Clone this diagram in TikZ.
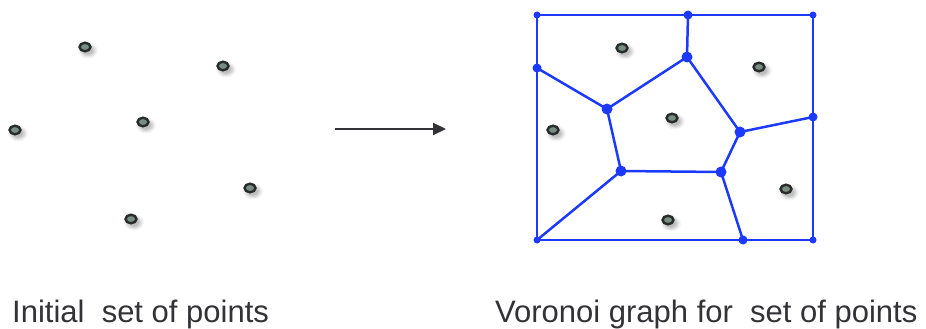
\documentclass[tikz,border=0pt]{standalone}
\usepackage{fontspec}
\setmainfont{Liberation Sans}
\usetikzlibrary{shapes.geometric,arrows.meta,calc}
\definecolor{vblue}{RGB}{28,58,255}
\definecolor{sitefill}{RGB}{120,142,128}
\definecolor{sitering}{RGB}{40,44,44}
\definecolor{txt}{RGB}{50,50,55}
\tikzset{
  site/.style={ellipse, draw=sitering, fill=sitefill, line width=2.4pt,
    minimum width=11pt, minimum height=8.5pt, inner sep=0pt},
  edge/.style={draw=vblue, line width=2.5pt, line join=round},
  vdot/.style={fill=vblue},
  caption/.style={font=\fontsize{31}{31}\selectfont, text=txt, inner sep=0pt, anchor=base west}
}
\newcommand{\mysite}[3]{%
  \foreach \r/\o in {10/0.04,8.5/0.06,7/0.08,5.5/0.1}{%
    \fill[black,opacity=\o] ($(#2,#3)+(3,3.5)$) ellipse ({\r pt} and {\r pt*0.8});}
  \node[site] (#1) at (#2,#3) {};}
\begin{document}
\begin{tikzpicture}[x=1pt,y=-1pt]
\useasboundingbox (0,0) rectangle (926,329);
% left set of points
\mysite{a1}{85}{47}
\mysite{a2}{223}{66}
\mysite{a3}{15}{130}
\mysite{a4}{143}{122}
\mysite{a5}{250}{188}
\mysite{a6}{131}{219}
% arrow
\coordinate (arS) at (335,129);
\coordinate (arE) at (446,129);
\draw[draw=txt, line width=2.2pt, -{Triangle[length=13pt,width=12pt]}] (arS) -- (arE);
% Voronoi box
\coordinate (TL) at (537,15);
\coordinate (TR) at (813,15);
\coordinate (BR) at (813,240);
\coordinate (BL) at (537,240);
\coordinate (T) at (688,15);
\coordinate (L) at (537,68);
\coordinate (R) at (813,117);
\coordinate (Bt) at (743,240);
\coordinate (A) at (687,57);
\coordinate (B) at (607,109);
\coordinate (C) at (740,132);
\coordinate (D) at (621,171);
\coordinate (E) at (721,172);
\draw[edge] (TL) -- (TR) -- (BR) -- (BL) -- cycle;
\draw[edge] (T) -- (A);
\draw[edge] (L) -- (B);
\draw[edge] (B) -- (A);
\draw[edge] (A) -- (C);
\draw[edge] (C) -- (R);
\draw[edge] (B) -- (D);
\draw[edge] (D) -- (E);
\draw[edge] (E) -- (C);
\draw[edge] (E) -- (Bt);
\draw[edge] (D) -- (BL);
\foreach \p in {A,B,C,D,E}{\fill[vdot] (\p) circle (5.5pt);}
\foreach \p in {T,L,R,Bt}{\fill[vdot] (\p) circle (4.5pt);}
\foreach \p in {TL,TR,BR,BL}{\fill[vdot] (\p) circle (3.5pt);}
% right sites
\mysite{b1}{622}{48}
\mysite{b2}{759}{67}
\mysite{b3}{553}{130}
\mysite{b4}{672}{118}
\mysite{b5}{786}{189}
\mysite{b6}{668}{220}
% captions
\node[caption] (cap1) at (12,322) {Initial\ \ set of points};
\node[caption] (cap2) at (495,322) {Voronoi graph for\ \ set of points};
\end{tikzpicture}
\end{document}
